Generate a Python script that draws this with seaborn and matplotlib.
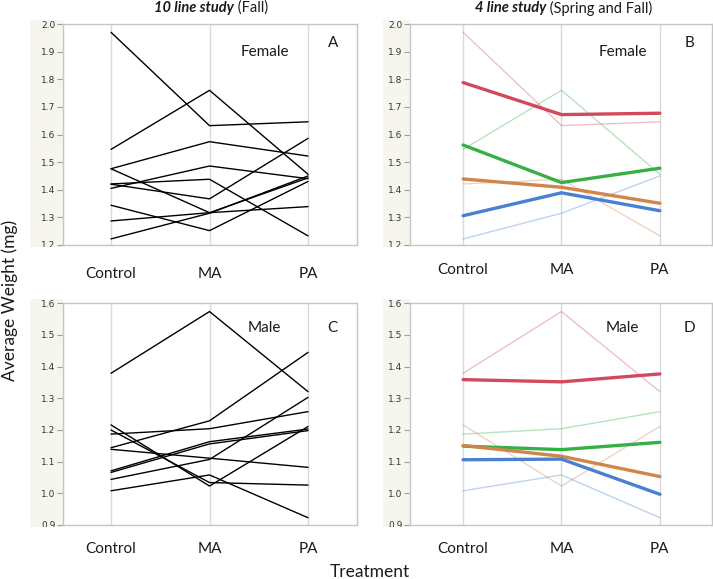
import matplotlib
matplotlib.use("Agg")
import matplotlib.pyplot as plt
import seaborn as sns
import pandas as pd
from matplotlib.patches import Rectangle

# ---------------- data ----------------
treatments = ["Control", "MA", "PA"]

# 10 line study (Fall) - Female
female10_control = [1.970, 1.546, 1.476, 1.476, 1.421, 1.405, 1.420, 1.344, 1.287, 1.222]
female10_ma      = [1.632, 1.760, 1.574, 1.317, 1.438, 1.486, 1.367, 1.252, 1.317, 1.315]
female10_pa      = [1.646, 1.456, 1.522, 1.443, 1.233, 1.440, 1.586, 1.430, 1.339, 1.450]

# 10 line study (Fall) - Male
male10_control = [1.379, 1.187, 1.216, 1.008, 1.200, 1.144, 1.139, 1.071, 1.066, 1.044]
male10_ma      = [1.574, 1.204, 1.023, 1.058, 1.034, 1.229, 1.111, 1.163, 1.156, 1.107]
male10_pa      = [1.321, 1.258, 1.211, 0.923, 1.026, 1.445, 1.082, 1.203, 1.198, 1.303]

# 4 line study (Spring and Fall): lines red, green, orange, blue
female4_control = [1.788, 1.562, 1.439, 1.306]
female4_ma      = [1.672, 1.426, 1.409, 1.389]
female4_pa      = [1.677, 1.478, 1.351, 1.324]

male4_control = [1.359, 1.149, 1.151, 1.106]
male4_ma      = [1.352, 1.138, 1.117, 1.108]
male4_pa      = [1.377, 1.161, 1.053, 0.997]

# which of the 10 lines are the 4 lines (faint copies in panels B and D)
female_shared = [0, 1, 4, 9]
male_shared = [0, 1, 2, 3]

line_colors = ["#d2485c", "#35b045", "#d0854a", "#4a7fd2"]


def long_df(ctrl, ma, pa, ids=None):
    rows = []
    n = len(ctrl)
    ids = list(range(n)) if ids is None else ids
    for i in ids:
        for t, v in zip(treatments, (ctrl[i], ma[i], pa[i])):
            rows.append({"line": i, "treatment": t, "weight": v})
    return pd.DataFrame(rows)


dfA = long_df(female10_control, female10_ma, female10_pa)
dfC = long_df(male10_control, male10_ma, male10_pa)
dfB_faint = long_df(female10_control, female10_ma, female10_pa, female_shared)
dfD_faint = long_df(male10_control, male10_ma, male10_pa, male_shared)
dfB = long_df(female4_control, female4_ma, female4_pa)
dfD = long_df(male4_control, male4_ma, male4_pa)

# ---------------- figure ----------------
sns.set_style("white")
plt.rcParams["font.family"] = ["Lato", "DejaVu Sans"]

W, H = 713, 579
fig = plt.figure(figsize=(W / 100, H / 100), dpi=100)


def fx(px):
    return px / W


def fy(py):
    return 1 - py / H


# axes rects in pixels (left, top, right, bottom)
rects = {
    "A": (63, 24, 357, 245),
    "B": (410, 24, 712, 245),
    "C": (63, 303.3, 357, 525),
    "D": (410, 303.3, 712, 525),
}
bands = {
    "A": (30, 20, 63, 247),
    "B": (383, 20, 410, 247),
    "C": (30, 299, 63, 527),
    "D": (383, 299, 410, 527),
}
xlims = {"A": (-0.487, 2.497), "B": (-0.54, 2.53), "C": (-0.487, 2.497), "D": (-0.54, 2.53)}
ylims = {"A": (1.2, 2.0), "B": (1.2, 2.0), "C": (0.9, 1.6), "D": (0.9, 1.6)}
xpads = {"A": 12, "B": 9.5, "C": 8.5, "D": 8.5}

axes = {}
band_patches = {}
for k, (l, t, r, b) in rects.items():
    # beige tick-label band
    bl, bt, br, bb = bands[k]
    band = Rectangle((fx(bl), fy(bb)), fx(br - bl), (bb - bt) / H,
                     transform=fig.transFigure, facecolor="#f6f6ef",
                     edgecolor="none", zorder=-5)
    fig.patches.append(band)
    band_patches[k] = band
    ax = fig.add_axes([fx(l), fy(b), fx(r - l), (b - t) / H])
    axes[k] = ax

# Panel A / C : black lines
for k, df in (("A", dfA), ("C", dfC)):
    sns.lineplot(data=df, x="treatment", y="weight", units="line",
                 estimator=None, color="black", lw=1.0, sort=False,
                 ax=axes[k], legend=False)

# Panel B / D : faint copies + thick lines
pal = {i: c for i, c in enumerate(line_colors)}
for k, dff, idx, df in (("B", dfB_faint, female_shared, dfB),
                        ("D", dfD_faint, male_shared, dfD)):
    fpal = {idx[i]: line_colors[i] for i in range(4)}
    sns.lineplot(data=dff, x="treatment", y="weight", hue="line",
                 palette=fpal, estimator=None, lw=1.0, alpha=0.35,
                 sort=False, ax=axes[k], legend=False)
    sns.lineplot(data=df, x="treatment", y="weight", hue="line",
                 palette=pal, estimator=None, lw=2.4, sort=False,
                 ax=axes[k], legend=False)

for k, ax in axes.items():
    ax.set_xlim(*xlims[k])
    ax.set_ylim(*ylims[k])
    lo, hi = ylims[k]
    ticks = [round(lo + 0.1 * i, 1) for i in range(int(round((hi - lo) / 0.1)) + 1)]
    ax.set_yticks(ticks)
    ax.set_yticklabels([f"{v:.1f}" for v in ticks], family="DejaVu Sans")
    ax.set_xticks([0, 1, 2])
    ax.set_xticklabels(treatments)
    ax.set_xlabel("")
    ax.set_ylabel("")
    ax.grid(axis="x", color="#d9d9d9", lw=1.0)
    ax.grid(axis="y", visible=False)
    ax.set_axisbelow(True)
    for s in ax.spines.values():
        s.set_color("#c6c6c6")
        s.set_linewidth(1.0)
    ax.tick_params(axis="y", left=True, length=4, width=0.8, color="#a0a0a0",
                   labelsize=6.5, labelcolor="#333333", pad=1.5)
    ax.tick_params(axis="x", bottom=False, labelsize=11, labelcolor="#1a1a1a",
                   pad=xpads[k])
    # clip tick labels to the beige band (bottom label is cut in half)
    for lab in ax.get_yticklabels():
        lab.set_clip_path(band_patches[k])

# panel annotations
ann = {
    "A": ("Female", 1.56, 1.897, "A", 2.25, 1.931),
    "B": ("Female", 1.62, 1.897, "B", 2.30, 1.931),
    "C": ("Male", 1.56, 1.522, "C", 2.25, 1.522),
    "D": ("Male", 1.62, 1.522, "D", 2.30, 1.522),
}
for k, (t1, x1, y1, t2, x2, y2) in ann.items():
    axes[k].text(x1, y1, t1, ha="center", va="center", fontsize=11, color="#1a1a1a")
    axes[k].text(x2, y2, t2, ha="center", va="center", fontsize=11, color="#1a1a1a")

# titles (bold italic part + normal part)
fig.text(fx(234), fy(8), "10 line study", ha="right", va="center",
         fontsize=10.5, fontweight="bold", fontstyle="italic", color="#1a1a1a")
fig.text(fx(234), fy(8), " (Fall)", ha="left", va="center",
         fontsize=10.5, color="#1a1a1a")
fig.text(fx(546), fy(8), "4 line study", ha="right", va="center",
         fontsize=10.5, fontweight="bold", fontstyle="italic", color="#1a1a1a")
fig.text(fx(546), fy(8), " (Spring and Fall)", ha="left", va="center",
         fontsize=10.5, color="#1a1a1a")

# shared axis labels
fig.text(fx(10), fy(300), "Average Weight (mg)", rotation=90, ha="center",
         va="center", fontsize=12.5, color="#1a1a1a")
fig.text(fx(370), fy(572), "Treatment", ha="center", va="center",
         fontsize=12.5, color="#1a1a1a")

fig.savefig("out.png", dpi=100)
